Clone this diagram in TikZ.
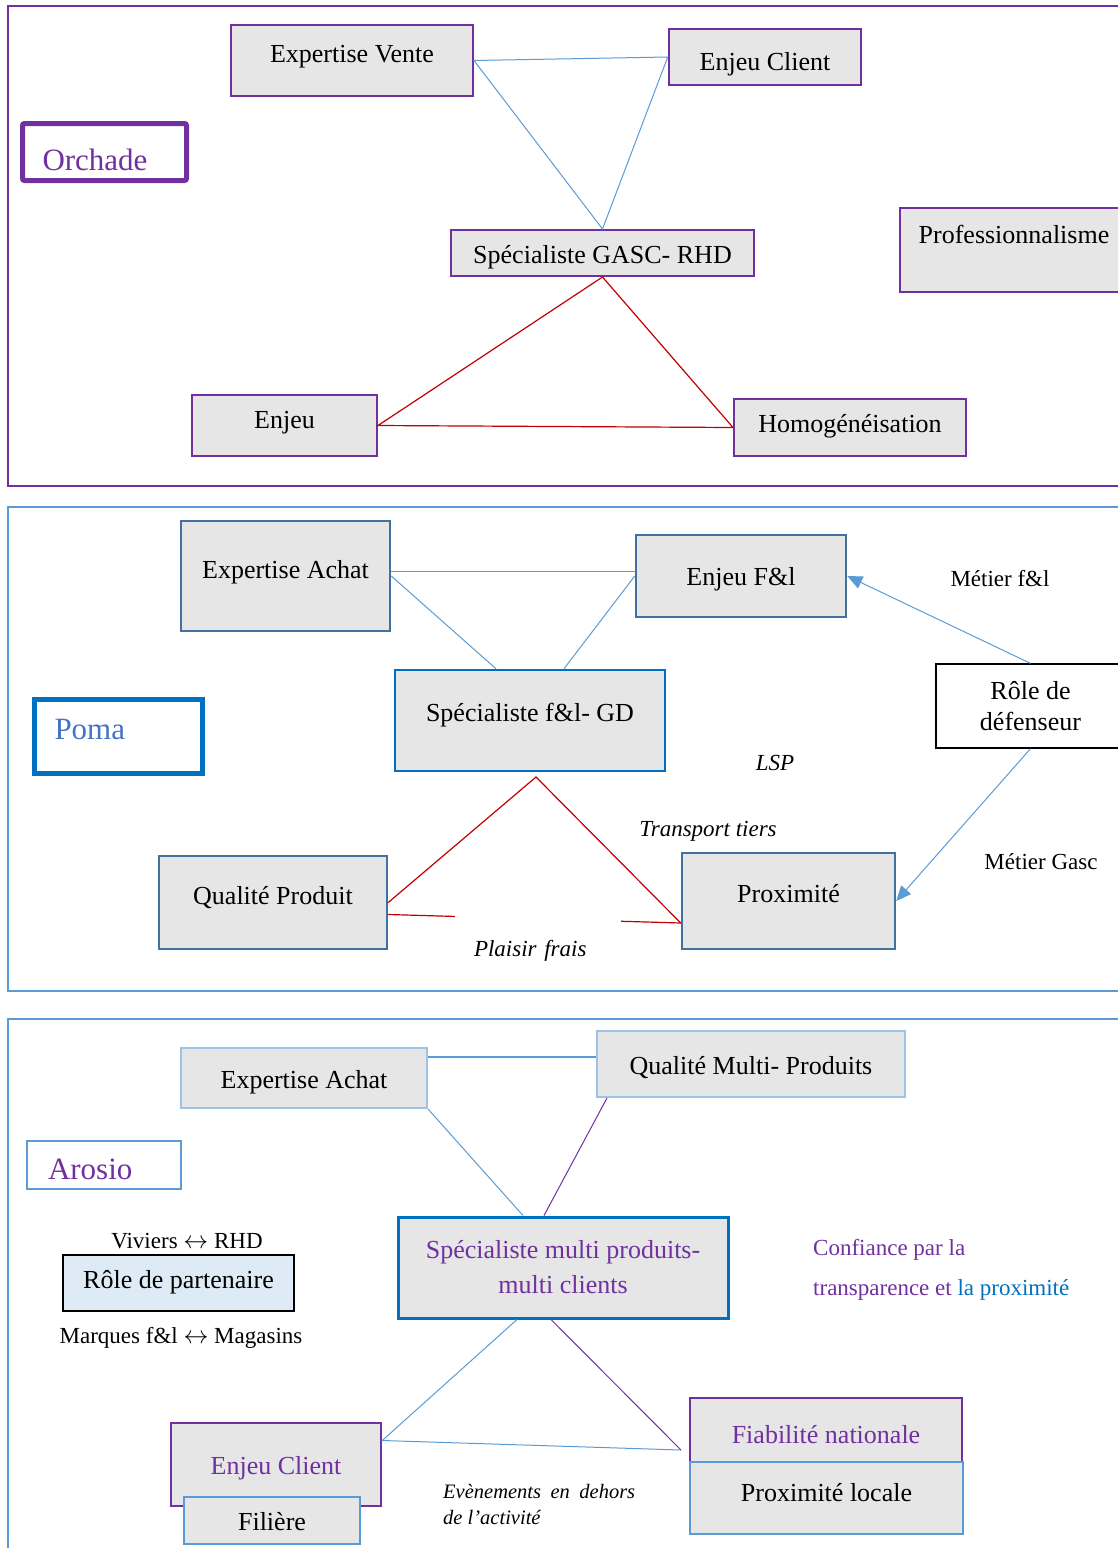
\documentclass[tikz,border=0pt]{standalone}
\usepackage{fontspec}
\setmainfont{Liberation Serif}
\usetikzlibrary{arrows.meta}
\definecolor{purp}{HTML}{7030A0}
\definecolor{lblue}{HTML}{5B9BD5}
\definecolor{dblue}{HTML}{0070C0}
\definecolor{steel}{HTML}{41719C}
\definecolor{pale}{HTML}{9DC3E6}
\definecolor{pomablue}{HTML}{4472C4}
\definecolor{paleblue}{HTML}{DEEBF7}
\definecolor{boxgray}{HTML}{E6E6E6}
\definecolor{redl}{HTML}{C00000}
\begin{document}
\begin{tikzpicture}[x=1pt,y=-1pt,
  box/.style={draw=purp,line width=2pt,fill=boxgray,inner sep=0pt,text height=22pt,text depth=6pt,font=\fontsize{26}{31}\selectfont},
  sz/.style 2 args={minimum width=#1pt,minimum height=#2pt},
  tag/.style={line width=5pt,inner xsep=20pt,inner ysep=0pt,align=left,font=\fontsize{31}{37}\selectfont},
  note/.style={inner sep=0pt,font=\fontsize{23}{28}\selectfont},
  link/.style={lblue,line width=1pt},
  redlink/.style={redl,line width=1.2pt},
  push/.style={link,-{Triangle[length=15pt,width=13pt]}}]
\useasboundingbox (0,0) rectangle (1117,1548);

% Orchade
\draw[purp,line width=2pt] (8,6) rectangle (1140,486);
\node[tag,draw=purp,text=purp,rounded corners=2pt,text width=124pt,minimum height=57pt,text height=42pt,text depth=6pt] (orchade) at (104.5,152) {Orchade};
\node[box,sz={242}{71},text height=9pt] (vente) at (352,60.5) {Expertise Vente};
\node[box,sz={192}{56},line width=2.5pt,text height=32pt] (client1) at (765,57) {Enjeu Client};
\node[box,sz={303}{46},text height=26pt] (gasc) at (602.5,253) {Spécialiste GASC- RHD};
\node[box,sz={228}{84},line width=1.3pt,text height=6pt,text depth=20pt] (prof) at (1014,250) {Professionnalisme};
\node[box,sz={185}{61},text height=11pt] (enjeu1) at (284.5,425.5) {Enjeu};
\node[box,sz={232}{57},text height=15pt] (homog) at (850,427.5) {Homogénéisation};
\draw[link] (vente.east) -- (client1.west) -- (gasc.north) -- cycle;
\draw[redlink] (gasc.south) -- (enjeu1.east) -- (homog.west) -- cycle;

% Poma
\draw[lblue,line width=2pt] (8,507) rectangle (1140,991);
\node[tag,draw=dblue,text=pomablue,text width=128pt,minimum height=74pt,text height=12pt,text depth=7pt] (poma) at (118.5,736.5) {Poma};
\node[box,draw=steel,line width=2.5pt,sz={209}{110},text height=10pt] (achat2) at (285.5,576) {Expertise Achat};
\node[box,draw=steel,line width=2.5pt,sz={210}{82},text height=24pt] (enjeuf) at (741,576) {Enjeu F\&l};
\node[box,draw=dblue,line width=2.5pt,sz={270}{101},text height=7pt] (spec2) at (530,720.5) {Spécialiste f\&l- GD};
\node[box,draw=black,fill=white,line width=1.3pt,sz={189}{84},align=center,text height=,text depth=] (role) at (1030.5,706) {Rôle de\\défenseur};
\node[box,draw=steel,line width=2.5pt,sz={228}{93},text height=9pt] (qual) at (273,902.5) {Qualité Produit};
\node[box,draw=steel,line width=2.5pt,sz={213}{96},text height=8pt] (prox) at (788.5,901) {Proximité};
\node[note] (metfl) at (1000,579) {Métier f\&l};
\node[note] (metgasc) at (1041,862) {Métier Gasc};
\node[note,font=\fontsize{23}{28}\selectfont\itshape] (lsp) at (775,763) {LSP};
\node[note,font=\fontsize{23}{28}\selectfont\itshape] (tiers) at (708,831) {Transport tiers};
\coordinate (apex) at (536,777);
\draw[link] ([yshift=5pt]achat2.east) -- ([yshift=5pt]enjeuf.west);
\draw[link] (achat2.east) -- ([xshift=-34pt]spec2.north);
\draw[link] (enjeuf.west) -- ([xshift=34pt]spec2.north);
\draw[redlink] (qual.east) -- (apex) -- ([yshift=-22pt]prox.west);
\draw[redlink] ([yshift=-12pt]qual.east) -- ([yshift=-22pt]prox.west);
\node[note,fill=white,inner xsep=19pt,text width=128pt,align=left,minimum height=75pt,text height=14pt,text depth=5pt,font=\fontsize{23}{28}\selectfont\itshape] (plaisir) at (538,951.5) {Plaisir frais};
\draw[push] (role.north) -- (enjeuf.east);
\draw[push] (role.south) -- (prox.east);

% Arosio
\draw[lblue,line width=2pt] (8,1019) rectangle (1140,1570);
\node[tag,draw=lblue,line width=2.5pt,inner xsep=21pt,text=purp,text width=112pt,minimum height=48pt,text height=34pt,text depth=6pt] (arosio) at (104,1165) {Arosio};
\node[box,draw=pale,sz={246}{60},text height=26pt] (achat3) at (304,1078) {Expertise Achat};
\node[box,draw=pale,sz={308}{66},text height=26pt] (multi) at (751,1064) {Qualité Multi- Produits};
\node[note] (viviers) at (187,1241) {Viviers $\leftrightarrow$ RHD};
\node[box,draw=black,fill=paleblue,line width=1.3pt,sz={231}{56},text height=16pt] (partner) at (178.5,1283) {Rôle de partenaire};
\node[note] (marques) at (181,1338) {Marques f\&l $\leftrightarrow$ Magasins};
\node[box,draw=dblue,line width=3pt,text=purp,sz={330}{101},align=center,text height=,text depth=,font=\fontsize{26}{35}\selectfont] (spec3) at (563,1267.5) {Spécialiste multi produits-\\multi clients};
\node[note,text=purp,align=left,anchor=north west,font=\fontsize{23}{40}\selectfont] (trust) at (813,1239) {Confiance par la\\transparence et \textcolor{dblue}{la proximité}};
\node[box,line width=2.5pt,text=purp,sz={210}{83},text height=25pt] (client3) at (276,1464.5) {Enjeu Client};
\node[box,draw=lblue,line width=2.5pt,sz={176}{47},text height=25pt] (filiere) at (272,1520.5) {Filière};
\node[box,line width=2.5pt,text=purp,sz={272}{68},text height=28pt] (fiab) at (826,1432) {Fiabilité nationale};
\node[box,draw=lblue,line width=2.5pt,sz={273}{72},text height=12pt] (proxloc) at (826.5,1498) {Proximité locale};
\node[note,anchor=north west,text width=192pt,align=justify,font=\fontsize{20.5}{26}\selectfont\itshape] (events) at (443,1484) {Evènements en dehors\linebreak de l’activité};
\coordinate (tip) at (681,1450);
\draw[link,line width=2pt] ([yshift=21pt]achat3.east) -- ([yshift=7pt]multi.west);
\draw[link] (achat3.south east) -- ([xshift=-40pt]spec3.north);
\draw[purp,line width=1pt] ([xshift=11pt]multi.south west) -- ([xshift=-19pt]spec3.north);
\draw[link] ([xshift=-46pt]spec3.south) -- ([yshift=24pt]client3.east) -- (tip);
\draw[purp,line width=1pt] ([xshift=-12pt]spec3.south) -- (tip);
\end{tikzpicture}
\end{document}
